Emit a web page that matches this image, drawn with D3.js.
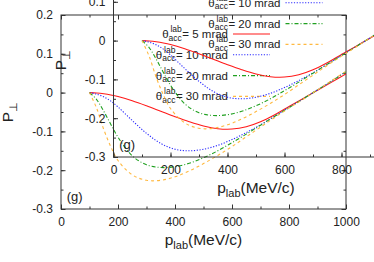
<!DOCTYPE html>
<html>
<head>
<meta charset="utf-8">
<script src="https://cdn.jsdelivr.net/npm/d3@7"></script>
<style>
  body { margin: 0; background: #ffffff; }
  text { font-family: "Liberation Sans", Arial, Helvetica, sans-serif; fill: #222; }
</style>
</head>
<body>
<svg id="chart"></svg>
<script>
// p_lab values (MeV/c) at which the curves were read
const pLab = [100, 125, 150, 175, 200, 250, 300, 350, 400, 450, 500, 550, 600, 650, 700, 750, 800, 850, 900, 950, 1000];

// P_perp for each acceptance angle
const acc5  = [0, -0.001, -0.003, -0.006, -0.010, -0.021, -0.034, -0.048, -0.062, -0.075, -0.086, -0.093, -0.094, -0.088, -0.075, -0.057, -0.036, -0.015, 0.006, 0.027, 0.048];
const acc10 = [0, -0.004, -0.011, -0.022, -0.037, -0.072, -0.105, -0.131, -0.146, -0.150, -0.146, -0.136, -0.121, -0.103, -0.083, -0.061, -0.038, -0.016, 0.007, 0.030, 0.054];
const acc20 = [0, -0.018, -0.048, -0.082, -0.115, -0.163, -0.186, -0.193, -0.191, -0.182, -0.168, -0.150, -0.129, -0.107, -0.084, -0.061, -0.039, -0.016, 0.007, 0.030, 0.054];
const acc30 = [0, -0.040, -0.095, -0.140, -0.175, -0.212, -0.226, -0.226, -0.217, -0.202, -0.183, -0.162, -0.139, -0.114, -0.089, -0.064, -0.040, -0.017, 0.007, 0.031, 0.055];

const accAngles = ["5", "10", "20", "30"];
const xTicks = [0, 200, 400, 600, 800, 1000];
const yTicks = [-0.3, -0.2, -0.1, 0, 0.1, 0.2];

const width = 374;
const height = 262;
const frame = {left: 61, right: 346, top: 15, bottom: 209};

const series = [
    {vals: acc5,  color: "#ff1a1a", dash: null},
    {vals: acc10, color: "#2a2aff", dash: "1.2,1.6"},
    {vals: acc20, color: "#20a020", dash: "4,2,1,2"},
    {vals: acc30, color: "#ffb940", dash: "3,3"}
];

const svg = d3.select("#chart")
    .attr("width", width)
    .attr("height", height)
    .attr("viewBox", [0, 0, width, height]);

svg.append("rect").attr("width", width).attr("height", height).attr("fill", "#ffffff");

const x = d3.scaleLinear().domain([0, 1000]).range([frame.left, frame.right]);
const y = d3.scaleLinear().domain([-0.3, 0.2]).range([frame.bottom, frame.top]);

function fmtY(d) {
    return d === 0 ? "0" : d3.format(".1f")(d).replace("−", "-");
}

// the figure is the same panel drawn twice, the second copy shifted up/right
function drawPanel(dx, dy, idx) {
    const g = svg.append("g").attr("transform", `translate(${dx},${dy})`);

    const clipId = "clip" + idx;
    g.append("clipPath").attr("id", clipId)
        .append("rect")
        .attr("x", frame.left).attr("y", frame.top)
        .attr("width", frame.right - frame.left)
        .attr("height", frame.bottom - frame.top);

    // minor + major ticks, inward, on all four sides
    const axes = [
        {ax: d3.axisBottom(x), pos: `translate(0,${frame.bottom})`, minor: d3.range(0, 1001, 100), major: xTicks, fmt: d3.format("d")},
        {ax: d3.axisTop(x), pos: `translate(0,${frame.top})`, minor: d3.range(0, 1001, 100), major: xTicks, fmt: null},
        {ax: d3.axisLeft(y), pos: `translate(${frame.left},0)`, minor: d3.range(-0.3, 0.2001, 0.05), major: yTicks, fmt: fmtY},
        {ax: d3.axisRight(y), pos: `translate(${frame.right},0)`, minor: d3.range(-0.3, 0.2001, 0.05), major: yTicks, fmt: null}
    ];
    axes.forEach(a => {
        const minorG = g.append("g").attr("transform", a.pos)
            .call(a.ax.tickValues(a.minor).tickSizeInner(-2.5).tickSizeOuter(0).tickFormat(""));
        minorG.select(".domain").remove();
        minorG.selectAll("line").attr("stroke", "#333");
        const majorG = g.append("g").attr("transform", a.pos)
            .call(a.ax.tickValues(a.major).tickSizeInner(-4.5).tickSizeOuter(0)
                .tickPadding(8).tickFormat(a.fmt ? a.fmt : ""));
        majorG.select(".domain").remove();
        majorG.selectAll("line").attr("stroke", "#333");
        majorG.selectAll("text")
            .attr("font-size", 12)
            .attr("fill", "#222")
            .style("font-family", '"Liberation Sans", Arial, sans-serif');
    });

    // frame
    g.append("rect")
        .attr("x", frame.left).attr("y", frame.top)
        .attr("width", frame.right - frame.left)
        .attr("height", frame.bottom - frame.top)
        .attr("fill", "none")
        .attr("stroke", "#333")
        .attr("stroke-width", 1);

    // axis titles
    const xl = g.append("text")
        .attr("x", (frame.left + frame.right) / 2)
        .attr("y", frame.bottom + 36)
        .attr("text-anchor", "middle")
        .attr("font-size", 15.5);
    xl.append("tspan").text("p");
    xl.append("tspan").attr("font-size", 11).attr("dy", 4).text("lab");
    xl.append("tspan").attr("dy", -4).text("(MeV/c)");

    const yl = g.append("text")
        .attr("transform", `translate(13,${(frame.top + frame.bottom) / 2}) rotate(-90)`)
        .attr("text-anchor", "middle")
        .attr("font-size", 15.5);
    yl.append("tspan").text("P");
    yl.append("tspan").attr("font-size", 11).attr("dy", 4).text("⊥");

    g.append("text")
        .attr("x", x(20))
        .attr("y", y(-0.28))
        .attr("font-size", 13)
        .text("(g)");

    // key
    const keyTextEnd = 228;
    const keyTop = 34;
    const keyStep = 20.8;
    series.forEach((s, i) => {
        const yy = keyTop + i * keyStep;
        const rest = g.append("text")
            .attr("x", keyTextEnd).attr("y", yy + 4)
            .attr("text-anchor", "end")
            .attr("font-size", 11.5)
            .text(`= ${accAngles[i]} mrad`);
        const subX = keyTextEnd - rest.node().getComputedTextLength() - 0.5;
        const acc = g.append("text")
            .attr("x", subX).attr("y", yy + 6.5)
            .attr("text-anchor", "end")
            .attr("font-size", 8.5)
            .text("acc");
        g.append("text")
            .attr("x", subX).attr("y", yy - 2)
            .attr("text-anchor", "end")
            .attr("font-size", 8.5)
            .text("lab");
        g.append("text")
            .attr("x", subX - acc.node().getComputedTextLength())
            .attr("y", yy + 4)
            .attr("text-anchor", "end")
            .attr("font-size", 11.5)
            .text("θ");
        g.append("line")
            .attr("x1", 233).attr("x2", 270)
            .attr("y1", yy).attr("y2", yy)
            .attr("stroke", s.color)
            .attr("stroke-width", 1.1)
            .attr("stroke-dasharray", s.dash);
    });

    // curves
    const line = d3.line()
        .x((d, i) => x(pLab[i]))
        .y(d => y(d))
        .curve(d3.curveCatmullRom.alpha(0.5));

    g.append("g").attr("clip-path", `url(#${clipId})`)
        .selectAll("path")
        .data(series)
        .join("path")
        .attr("d", d => line(d.vals))
        .attr("fill", "none")
        .attr("stroke", d => d.color)
        .attr("stroke-width", 1.1)
        .attr("stroke-dasharray", d => d.dash);
}

drawPanel(0, 0, 0);
drawPanel(52.5, -52, 1);
</script>
</body>
</html>
